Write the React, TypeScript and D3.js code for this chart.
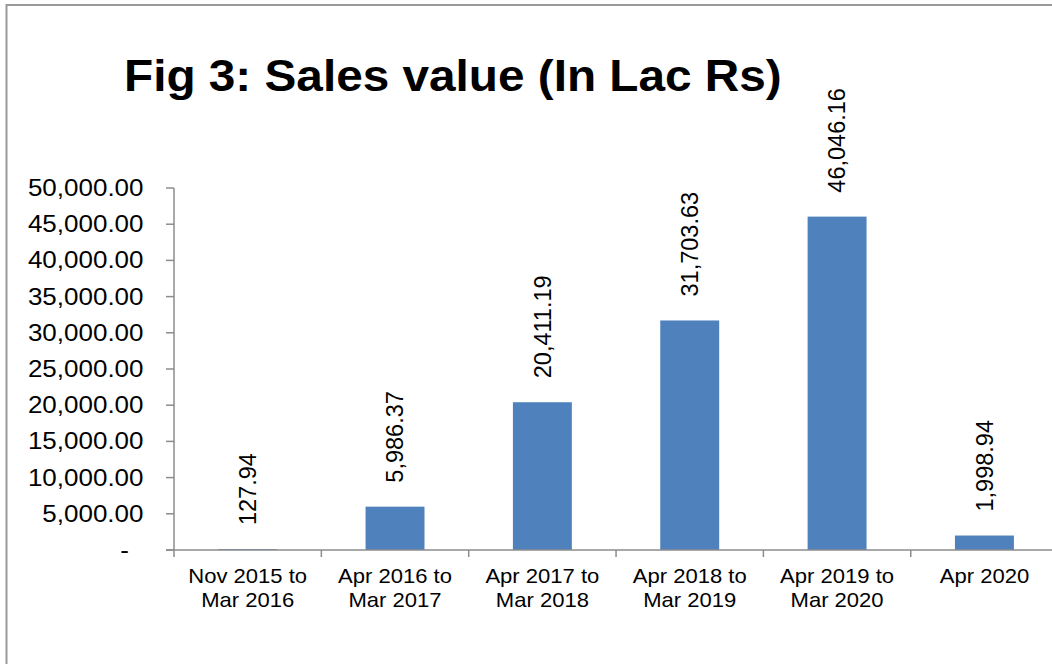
import React from "react";
import * as d3 from "d3";

const categories: string[][] = [
  ["Nov 2015 to", "Mar 2016"],
  ["Apr 2016 to", "Mar 2017"],
  ["Apr 2017 to", "Mar 2018"],
  ["Apr 2018 to", "Mar 2019"],
  ["Apr 2019 to", "Mar 2020"],
  ["Apr 2020"],
];
const salesValues: number[] = [127.94, 5986.37, 20411.19, 31703.63, 46046.16, 1998.94];
const yTicks: number[] = [0, 5000, 10000, 15000, 20000, 25000, 30000, 35000, 40000, 45000, 50000];
const title = "Fig 3: Sales value (In Lac Rs)";

const W = 1052;
const H = 664;
const FONT = "Arial, 'Liberation Sans', Helvetica, sans-serif";
const AXIS = "#8c8c8c";
const BAR = "#4F81BD";

export default function App() {
  const keys = categories.map((c) => c.join(" "));
  const left = 174;
  const step = 147.35;
  const x = d3
    .scaleBand<string>()
    .domain(keys)
    .range([left, left + step * keys.length])
    .paddingInner(0.6)
    .paddingOuter(0.3);
  const y = d3.scaleLinear().domain([0, 50000]).range([550, 188]);
  const fmt = d3.format(",.2f");
  const y0 = y(0);

  return (
    <div style={{ position: "absolute", left: 0, top: 0, width: W, height: H, background: "#fff" }}>
      <svg width={W} height={H} style={{ display: "block" }}>
        <rect x={6.5} y={5} width={W + 20} height={H + 20} fill="#fff" stroke="#9a9a9a" strokeWidth={2} />
        <text
          transform={`translate(124,91) scale(1.085,1)`}
          fontFamily={FONT}
          fontWeight="bold"
          fontSize={44}
          fill="#000"
        >
          {title}
        </text>

        {/* bars */}
        {salesValues.map((v, i) => (
          <rect
            key={keys[i]}
            x={x(keys[i])}
            y={y(v)}
            width={x.bandwidth()}
            height={y0 - y(v)}
            fill={BAR}
          />
        ))}

        {/* y axis */}
        <line x1={left} x2={left} y1={y(50000)} y2={y0} stroke={AXIS} strokeWidth={1.5} />
        {yTicks.map((t) => (
          <g key={t}>
            <line x1={166} x2={left} y1={y(t)} y2={y(t)} stroke={AXIS} strokeWidth={1.5} />
            <text
              transform={`translate(${t === 0 ? 129 : 143.5},${y(t)}) scale(1.13,1)`}
              textAnchor="end"
              dy="0.35em"
              fontFamily={FONT}
              fontSize={23}
              fill="#000"
            >
              {t === 0 ? "-" : fmt(t)}
            </text>
          </g>
        ))}

        {/* x axis */}
        <line x1={166} x2={W} y1={y0} y2={y0} stroke={AXIS} strokeWidth={1.5} />
        {keys.map((k, i) => (
          <line
            key={"t" + k}
            x1={left + i * x.step()}
            x2={left + i * x.step()}
            y1={y0}
            y2={y0 + 7}
            stroke={AXIS}
            strokeWidth={1.5}
          />
        ))}
        {categories.map((lines, i) => {
          const cx = (x(keys[i]) as number) + x.bandwidth() / 2;
          return (
            <text
              key={"c" + keys[i]}
              transform={`translate(${cx},583) scale(1.05,1)`}
              textAnchor="middle"
              fontFamily={FONT}
              fontSize={21}
              fill="#000"
            >
              {lines.map((l, j) => (
                <tspan key={j} x={0} y={j * 24}>
                  {l}
                </tspan>
              ))}
            </text>
          );
        })}

        {/* data labels */}
        {salesValues.map((v, i) => {
          const cx = (x(keys[i]) as number) + x.bandwidth() / 2;
          return (
            <text
              key={"d" + keys[i]}
              transform={`translate(${cx},${y(v) - 24}) rotate(-90)`}
              textAnchor="start"
              dy="0.35em"
              fontFamily={FONT}
              fontSize={23.5}
              fill="#000"
            >
              {fmt(v)}
            </text>
          );
        })}
      </svg>
    </div>
  );
}
